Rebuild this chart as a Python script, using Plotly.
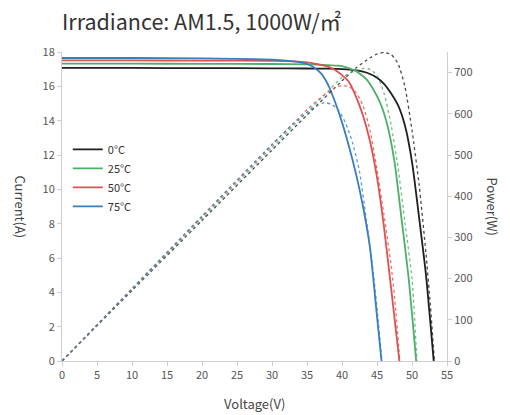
import plotly.graph_objects as go

# ---- data ----
temps = ["0°C", "25°C", "50°C", "75°C"]
colors = ["#1f1f1f", "#4caf68", "#e0504f", "#3a7dbf"]

v_iv_0 = [0, 10, 20, 30, 35, 38, 40, 42, 43, 44, 45, 46, 47, 48, 49, 50, 51, 52, 53.1]
i_iv_0 = [17.07, 17.07, 17.06, 17.05, 17.04, 17.03, 17.0, 16.93, 16.85, 16.72, 16.5, 16.15, 15.6, 14.9, 13.7, 11.6, 8.4, 5.0, 0]

v_iv_25 = [0, 10, 20, 30, 35, 38, 39.5, 40.5, 41.5, 42.5, 43.5, 44.5, 45.5, 46.5, 47.5, 48.5, 49.5, 50.6]
i_iv_25 = [17.32, 17.32, 17.31, 17.30, 17.28, 17.24, 17.2, 17.12, 16.98, 16.75, 16.4, 15.8, 15.0, 13.7, 11.6, 8.3, 4.9, 0]

v_iv_50 = [0, 10, 20, 30, 33, 35, 36.5, 38, 39, 40, 41, 42, 43, 44, 45, 46, 47, 48.2]
i_iv_50 = [17.51, 17.51, 17.50, 17.48, 17.45, 17.4, 17.3, 17.15, 16.95, 16.65, 16.25, 15.4, 14.3, 12.8, 10.7, 7.8, 4.3, 0]

v_iv_75 = [0, 10, 20, 25, 30, 32, 34, 35, 36, 37, 38, 39, 40, 41, 42, 43, 44, 45, 45.65]
i_iv_75 = [17.65, 17.65, 17.63, 17.6, 17.55, 17.5, 17.4, 17.3, 17.1, 16.75, 16.1, 15.1, 13.9, 12.5, 10.9, 9.0, 6.6, 2.6, 0]

v_p_0 = [0, 10, 20, 30, 35, 40, 42, 44, 45, 46, 47, 48, 49, 50, 51, 52, 52.6, 53.2]
p_p_0 = [0, 171, 341, 512, 597, 680, 711, 736, 745, 749, 744, 722, 665, 560, 430, 260, 140, 0]

v_p_25 = [0, 10, 20, 30, 35, 38, 40, 42, 43, 44, 45, 46, 47, 48, 49, 50, 50.7]
p_p_25 = [0, 173, 346, 519, 604, 655, 688, 705, 710, 708, 693, 650, 575, 470, 335, 200, 0]

v_p_50 = [0, 10, 20, 30, 35, 37, 39, 40, 41, 42, 43, 44, 45, 46, 47, 47.7, 48.25]
p_p_50 = [0, 175, 350, 524, 610, 640, 663, 668, 666, 652, 620, 560, 465, 355, 235, 120, 0]

v_p_75 = [0, 10, 20, 30, 33, 35, 36.5, 37.5, 38.5, 39.5, 40.5, 41.5, 42.5, 43.5, 44.5, 45.1, 45.7]
p_p_75 = [0, 176, 352, 526, 575, 603, 620, 627, 623, 608, 578, 530, 460, 340, 210, 110, 0]

x_ticks = [0, 5, 10, 15, 20, 25, 30, 35, 40, 45, 50, 55]
y_ticks = [0, 2, 4, 6, 8, 10, 12, 14, 16, 18]
p_ticks = [0, 100, 200, 300, 400, 500, 600, 700]

iv_sets = [(v_iv_0, i_iv_0), (v_iv_25, i_iv_25), (v_iv_50, i_iv_50), (v_iv_75, i_iv_75)]
p_sets = [(v_p_0, p_p_0), (v_p_25, p_p_25), (v_p_50, p_p_50), (v_p_75, p_p_75)]

FONT = "Noto Sans CJK SC, Noto Sans, sans-serif"

fig = go.Figure()

# power curves (dotted) first, under the I-V curves
for k in range(4):
    v, p = p_sets[k]
    fig.add_trace(go.Scatter(x=v, y=p, yaxis="y2", mode="lines",
                             line=dict(color=colors[k], width=1.3, dash="dot", shape="spline", smoothing=0.6),
                             opacity=0.8, showlegend=False, hoverinfo="skip"))

for k in range(4):
    v, i = iv_sets[k]
    fig.add_trace(go.Scatter(x=v, y=i, mode="lines", name=temps[k],
                             line=dict(color=colors[k], width=1.8, shape="spline", smoothing=0.6)))

axis_common = dict(showgrid=False, zeroline=False, showline=True, linecolor="#cfcfcf", linewidth=1,
                   ticks="outside", ticklen=4, tickcolor="#cfcfcf",
                   tickfont=dict(family=FONT, size=11, color="#555555"))

W, H = 510, 415
fig.update_layout(
    width=W, height=H,
    margin=dict(l=62, r=63, t=52, b=54),
    paper_bgcolor="white", plot_bgcolor="white",
    title=dict(text="Irradiance: AM1.5, 1000W/㎡", x=62 / W, xanchor="left", y=1 - 22 / H, yanchor="middle",
               font=dict(family=FONT, size=21.5, color="#333333")),
    xaxis=dict(range=[0, 55], tickvals=x_ticks, **axis_common),
    yaxis=dict(range=[0, 18], tickvals=y_ticks, **axis_common),
    yaxis2=dict(range=[0, 750], tickvals=p_ticks, overlaying="y", side="right", **axis_common),
    legend=dict(x=0.015, y=0.7315, xanchor="left", yanchor="top", bgcolor="rgba(0,0,0,0)",
                font=dict(family=FONT, size=11, color="#333333"), itemwidth=30, tracegroupgap=0),
    showlegend=True,
    annotations=[
        dict(text="Voltage(V)", xref="paper", yref="paper", x=0.5, y=-0.136, xanchor="center", yanchor="middle",
             showarrow=False, font=dict(family=FONT, size=13, color="#444444")),
        dict(text="Current(A)", xref="paper", x=-0.109, yref="paper", y=0.5, textangle=90,
             xanchor="center", yanchor="middle",
             showarrow=False, font=dict(family=FONT, size=13, color="#444444")),
        dict(text="Power(W)", xref="paper", x=1.117, yref="paper", y=0.5, textangle=90,
             xanchor="center", yanchor="middle",
             showarrow=False, font=dict(family=FONT, size=13, color="#444444")),
    ],
)

fig.write_html("out.html", config={"displayModeBar": False},
               post_script="document.body.style.margin='0';document.body.style.overflow='hidden';")
